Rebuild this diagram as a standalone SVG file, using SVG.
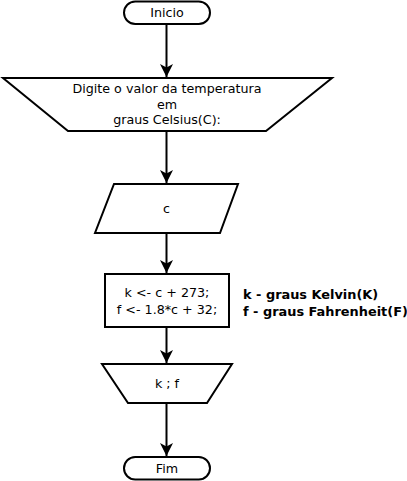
<svg xmlns="http://www.w3.org/2000/svg" width="407" height="481" viewBox="0 0 407 481">
<style>
.s{fill:#fff;stroke:#000;stroke-width:2}
.t{font-family:"DejaVu Sans",sans-serif;font-size:12.7px;fill:#000;text-anchor:middle}
.b{font-family:"DejaVu Sans",sans-serif;font-size:12.9px;font-weight:bold;fill:#000}
.c{fill:none;stroke:#000;stroke-width:2}
</style>
<defs>
<marker id="ah" markerUnits="userSpaceOnUse" markerWidth="14" markerHeight="14" viewBox="0 0 14 14" refX="13" refY="7" orient="auto">
<path d="M0,0.5 L13,7 L0,13.5 L3.5,7 z" fill="#000"/>
</marker>
</defs>
<rect width="407" height="481" fill="#fff"/>
<g id="connectors">
<line class="c" x1="166.5" y1="24" x2="166.5" y2="77" marker-end="url(#ah)"/>
<line class="c" x1="166.5" y1="131" x2="166.5" y2="183" marker-end="url(#ah)"/>
<line class="c" x1="166.5" y1="233" x2="166.5" y2="273" marker-end="url(#ah)"/>
<line class="c" x1="166.5" y1="327" x2="166.5" y2="363" marker-end="url(#ah)"/>
<line class="c" x1="166.5" y1="403" x2="166.5" y2="456" marker-end="url(#ah)"/>
</g>
<g id="inicio">
<rect class="s" x="124" y="1.5" width="86" height="22.5" rx="11.25"/>
<text class="t" x="167" y="17">Inicio</text>
</g>
<g id="entrada">
<polygon class="s" points="3,78 332,78 266,131 68,131"/>
<text class="t" x="167" y="93">Digite o valor da temperatura</text>
<text class="t" x="167" y="108.5">em</text>
<text class="t" x="167" y="124">graus Celsius(C):</text>
</g>
<g id="leitura">
<polygon class="s" points="114,184 238,184 220,233 95,233"/>
<text class="t" x="166.5" y="213">c</text>
</g>
<g id="processo">
<rect class="s" x="105" y="274" width="124" height="53"/>
<text class="t" x="167" y="297">k &lt;- c + 273;</text>
<text class="t" x="167" y="314">f &lt;- 1.8*c + 32;</text>
</g>
<g id="legenda">
<text class="b" x="243" y="298.5">k - graus Kelvin(K)</text>
<text class="b" x="243" y="315.5">f - graus Fahrenheit(F)</text>
</g>
<g id="saida">
<polygon class="s" points="102,364 232,364 207,403 128,403"/>
<text class="t" x="167" y="388">k ; f</text>
</g>
<g id="fim">
<rect class="s" x="124" y="457" width="86" height="22.5" rx="11.25"/>
<text class="t" x="167" y="473">Fim</text>
</g>
</svg>
